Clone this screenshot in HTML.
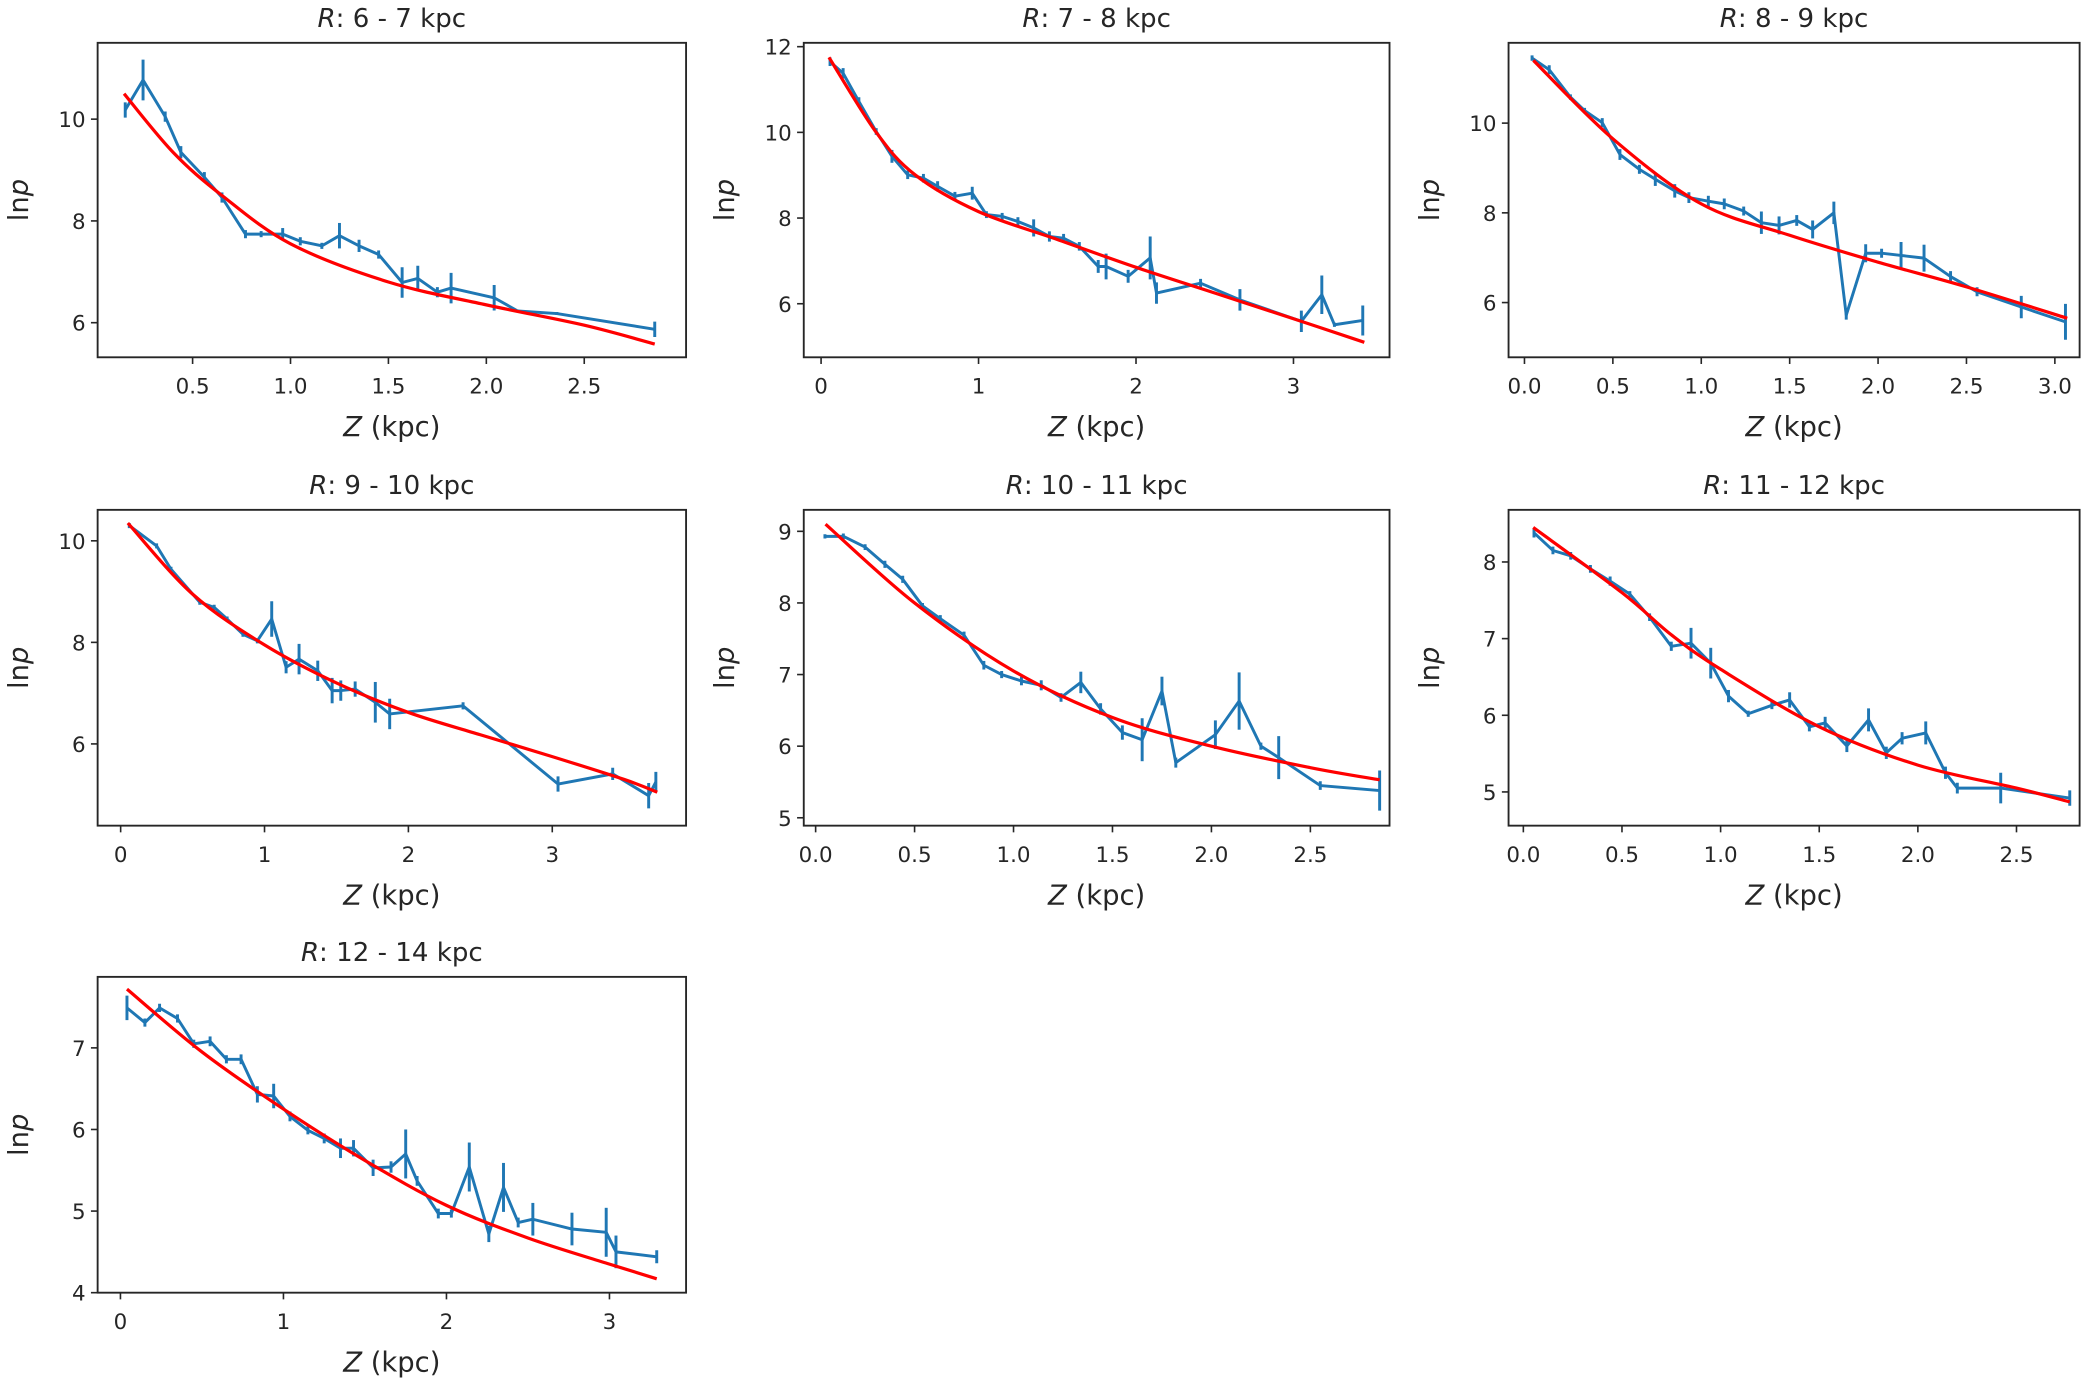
<!DOCTYPE html>
<html><head><meta charset="utf-8"><style>
html,body{margin:0;padding:0;background:#fff;}
svg{display:block;}
text{font-family:"DejaVu Sans","Liberation Sans",sans-serif;fill:#262626;}
</style></head><body>
<svg id="fig" width="2097" height="1381" viewBox="0 0 1568 1032" preserveAspectRatio="none" xmlns="http://www.w3.org/2000/svg"></svg>
<script>
// ---- data ----
const p1Z=[0.156,0.247,0.36,0.44,0.56,0.65,0.77,0.85,0.96,1.05,1.16,1.25,1.35,1.45,1.57,1.65,1.75,1.82,2.04,2.16,2.36,2.86];
const p1LnP=[10.18,10.77,10.05,9.35,8.86,8.46,7.74,7.74,7.74,7.6,7.51,7.71,7.51,7.34,6.79,6.87,6.6,6.68,6.49,6.23,6.18,5.87];
const p1Err=[0.15,0.4,0.1,0.12,0.1,0.1,0.08,0.06,0.12,0.08,0.06,0.25,0.12,0.08,0.3,0.25,0.1,0.3,0.25,0.03,0.03,0.15];
const p1FitZ=[0.15,0.4,0.65,1.0,1.5,2.0,2.5,2.86];
const p1FitLnP=[10.5,9.35,8.5,7.55,6.8,6.35,5.95,5.58];

const p2Z=[0.057,0.14,0.24,0.35,0.45,0.55,0.65,0.74,0.85,0.96,1.05,1.15,1.25,1.35,1.45,1.54,1.64,1.76,1.81,1.95,2.09,2.13,2.41,2.66,3.05,3.18,3.26,3.44];
const p2LnP=[11.65,11.38,10.72,10.02,9.44,9.01,8.93,8.74,8.51,8.58,8.08,8.04,7.92,7.77,7.57,7.53,7.34,6.87,6.87,6.64,7.07,6.25,6.48,6.09,5.59,6.21,5.51,5.61];
const p2Err=[0.1,0.12,0.1,0.08,0.15,0.1,0.1,0.12,0.1,0.15,0.08,0.08,0.1,0.2,0.12,0.1,0.1,0.15,0.3,0.15,0.5,0.25,0.1,0.25,0.25,0.45,0.05,0.35];
const p2FitZ=[0.05,0.35,0.6,1.0,1.5,2.0,2.5,3.0,3.45];
const p2FitLnP=[11.75,10.0,9.0,8.15,7.5,6.85,6.25,5.65,5.1];

const p3Z=[0.043,0.14,0.26,0.34,0.44,0.54,0.65,0.74,0.85,0.93,1.04,1.13,1.24,1.34,1.44,1.54,1.63,1.75,1.82,1.93,2.02,2.13,2.26,2.41,2.56,2.81,3.06];
const p3LnP=[11.45,11.19,10.58,10.28,10.01,9.3,8.97,8.75,8.49,8.34,8.26,8.2,8.04,7.78,7.72,7.83,7.63,8.0,5.72,7.1,7.1,7.05,6.99,6.58,6.24,5.9,5.57];
const p3Err=[0.06,0.1,0.06,0.06,0.1,0.12,0.1,0.15,0.15,0.12,0.12,0.12,0.1,0.25,0.2,0.12,0.2,0.25,0.1,0.2,0.1,0.3,0.3,0.12,0.1,0.25,0.4];
const p3FitZ=[0.05,0.5,1.0,1.5,2.0,2.5,3.07];
const p3FitLnP=[11.4,9.65,8.2,7.5,6.9,6.35,5.65];

const p4Z=[0.06,0.25,0.35,0.55,0.65,0.74,0.85,0.95,1.05,1.15,1.24,1.37,1.47,1.53,1.63,1.77,1.87,2.38,3.04,3.42,3.67,3.72];
const p4LnP=[10.3,9.9,9.44,8.79,8.69,8.46,8.16,8.03,8.46,7.51,7.67,7.44,7.05,7.05,7.08,6.82,6.59,6.75,5.21,5.41,4.98,5.25];
const p4Err=[0.05,0.05,0.05,0.05,0.05,0.05,0.05,0.05,0.35,0.12,0.3,0.2,0.25,0.2,0.15,0.4,0.3,0.07,0.15,0.12,0.25,0.2];
const p4FitZ=[0.05,0.5,1.0,1.5,2.0,2.5,3.0,3.5,3.73];
const p4FitLnP=[10.35,8.95,7.95,7.2,6.62,6.18,5.75,5.3,5.05];

const p5Z=[0.047,0.14,0.25,0.35,0.44,0.54,0.63,0.75,0.85,0.94,1.04,1.14,1.24,1.34,1.44,1.55,1.65,1.75,1.82,2.02,2.14,2.25,2.34,2.55,2.85];
const p5LnP=[8.93,8.93,8.78,8.54,8.33,7.96,7.78,7.55,7.13,7.0,6.91,6.85,6.68,6.89,6.52,6.19,6.09,6.77,5.77,6.16,6.63,6.0,5.84,5.45,5.38];
const p5Err=[0.03,0.04,0.04,0.05,0.05,0.04,0.05,0.05,0.06,0.05,0.06,0.07,0.06,0.15,0.08,0.1,0.3,0.2,0.07,0.2,0.4,0.05,0.3,0.06,0.28];
const p5FitZ=[0.05,0.5,1.0,1.5,2.0,2.5,2.85];
const p5FitLnP=[9.1,8.0,7.05,6.4,6.0,5.7,5.53];

const p6Z=[0.054,0.15,0.24,0.34,0.44,0.54,0.64,0.75,0.85,0.95,1.04,1.14,1.26,1.35,1.45,1.53,1.64,1.75,1.84,1.92,2.04,2.14,2.2,2.42,2.77];
const p6LnP=[8.38,8.15,8.08,7.91,7.75,7.58,7.28,6.9,6.94,6.68,6.25,6.02,6.13,6.2,5.85,5.9,5.6,5.94,5.51,5.7,5.77,5.25,5.05,5.05,4.92];
const p6Err=[0.06,0.05,0.05,0.05,0.06,0.04,0.05,0.06,0.2,0.2,0.08,0.04,0.05,0.1,0.06,0.08,0.08,0.15,0.08,0.08,0.15,0.08,0.07,0.2,0.1];
const p6FitZ=[0.05,0.5,0.75,1.0,1.5,2.0,2.5,2.77];
const p6FitLnP=[8.45,7.6,7.05,6.6,5.85,5.35,5.05,4.87];

const p7Z=[0.04,0.15,0.24,0.35,0.45,0.55,0.65,0.74,0.84,0.94,1.04,1.15,1.25,1.35,1.43,1.55,1.66,1.75,1.82,1.95,2.03,2.14,2.26,2.35,2.44,2.53,2.77,2.98,3.04,3.29];
const p7LnP=[7.49,7.31,7.49,7.36,7.05,7.08,6.86,6.86,6.43,6.41,6.16,5.99,5.89,5.77,5.77,5.53,5.54,5.7,5.37,4.97,4.97,5.54,4.72,5.29,4.86,4.9,4.78,4.74,4.5,4.44];
const p7Err=[0.15,0.05,0.05,0.05,0.05,0.06,0.05,0.06,0.1,0.15,0.06,0.05,0.06,0.12,0.1,0.1,0.07,0.3,0.06,0.06,0.05,0.3,0.1,0.3,0.06,0.2,0.2,0.3,0.2,0.08];
const p7FitZ=[0.04,0.5,1.0,1.5,2.0,2.5,3.0,3.29];
const p7FitLnP=[7.72,6.95,6.25,5.62,5.07,4.67,4.35,4.17];

const titles=["6 - 7","7 - 8","8 - 9","9 - 10","10 - 11","11 - 12","12 - 14"];
const xTicks1=[0.5,1.0,1.5,2.0,2.5], xTickLabels1=["0.5","1.0","1.5","2.0","2.5"];
const xTicks2=[0,1,2,3], xTickLabels2=["0","1","2","3"];
const xTicks3=[0,0.5,1,1.5,2,2.5,3], xTickLabels3=["0.0","0.5","1.0","1.5","2.0","2.5","3.0"];
const xTicks4=[0,1,2,3], xTickLabels4=["0","1","2","3"];
const xTicks5=[0,0.5,1,1.5,2,2.5], xTickLabels5=["0.0","0.5","1.0","1.5","2.0","2.5"];
const xTicks6=[0,0.5,1,1.5,2,2.5], xTickLabels6=["0.0","0.5","1.0","1.5","2.0","2.5"];
const xTicks7=[0,1,2,3], xTickLabels7=["0","1","2","3"];
const yTicks1=[6,8,10], yTicks2=[6,8,10,12], yTicks3=[6,8,10], yTicks4=[6,8,10];
const yTicks5=[5,6,7,8,9], yTicks6=[5,6,7,8], yTicks7=[4,5,6,7];

// ---- layout (not data) ----
const panels=[
 {z:p1Z,v:p1LnP,e:p1Err,fz:p1FitZ,fv:p1FitLnP,xt:xTicks1,xl:xTickLabels1,yt:yTicks1,box:[73,32,513,267],xr:[0.015,3.02],yr:[5.32,11.5]},
 {z:p2Z,v:p2LnP,e:p2Err,fz:p2FitZ,fv:p2FitLnP,xt:xTicks2,xl:xTickLabels2,yt:yTicks2,box:[601,32,1039,267],xr:[-0.11,3.61],yr:[4.75,12.09]},
 {z:p3Z,v:p3LnP,e:p3Err,fz:p3FitZ,fv:p3FitLnP,xt:xTicks3,xl:xTickLabels3,yt:yTicks3,box:[1128,32,1555,267],xr:[-0.09,3.14],yr:[4.78,11.79]},
 {z:p4Z,v:p4LnP,e:p4Err,fz:p4FitZ,fv:p4FitLnP,xt:xTicks4,xl:xTickLabels4,yt:yTicks4,box:[73,381,513,617],xr:[-0.16,3.93],yr:[4.39,10.61]},
 {z:p5Z,v:p5LnP,e:p5Err,fz:p5FitZ,fv:p5FitLnP,xt:xTicks5,xl:xTickLabels5,yt:yTicks5,box:[601,381,1039,617],xr:[-0.06,2.90],yr:[4.89,9.30]},
 {z:p6Z,v:p6LnP,e:p6Err,fz:p6FitZ,fv:p6FitLnP,xt:xTicks6,xl:xTickLabels6,yt:yTicks6,box:[1128,381,1555,617],xr:[-0.075,2.82],yr:[4.56,8.68]},
 {z:p7Z,v:p7LnP,e:p7Err,fz:p7FitZ,fv:p7FitLnP,xt:xTicks7,xl:xTickLabels7,yt:yTicks7,box:[73,730,513,966],xr:[-0.14,3.47],yr:[4.0,7.87]}
];
const NS="http://www.w3.org/2000/svg";
const svg=document.getElementById('fig');
function mk(tag,attrs,parent){const el=document.createElementNS(NS,tag);for(const k in attrs)el.setAttribute(k,attrs[k]);(parent||svg).appendChild(el);return el;}
function smooth(pts){
  let d="M"+pts[0][0].toFixed(2)+","+pts[0][1].toFixed(2);
  for(let i=0;i<pts.length-1;i++){
    const p0=pts[i-1]||pts[i],p1=pts[i],p2=pts[i+1],p3=pts[i+2]||p2;
    const c1=[p1[0]+(p2[0]-p0[0])/6,p1[1]+(p2[1]-p0[1])/6];
    const c2=[p2[0]-(p3[0]-p1[0])/6,p2[1]-(p3[1]-p1[1])/6];
    d+=" C"+c1[0].toFixed(2)+","+c1[1].toFixed(2)+" "+c2[0].toFixed(2)+","+c2[1].toFixed(2)+" "+p2[0].toFixed(2)+","+p2[1].toFixed(2);
  }
  return d;
}
panels.forEach((p,i)=>{
  const [x0,y0,x1,y1]=p.box;
  const X=v=>x0+(v-p.xr[0])/(p.xr[1]-p.xr[0])*(x1-x0);
  const Y=v=>y1-(v-p.yr[0])/(p.yr[1]-p.yr[0])*(y1-y0);
  const g=mk('g',{});
  
  
  const cid='clip'+i;
  const cp=mk('clipPath',{id:cid},g);mk('rect',{x:x0,y:y0,width:x1-x0,height:y1-y0},cp);
  const t=mk('text',{x:(x0+x1)/2,y:y0-12,'text-anchor':'middle','font-size':19.5},g);
  
  
  t.innerHTML='<tspan font-style="italic">R</tspan>: '+titles[i]+' kpc';
  p.xt.forEach((tv,j)=>{
    const xx=X(tv);
    mk('line',{x1:xx,x2:xx,y1:y1,y2:y1+5,stroke:'#262626','stroke-width':1.2},g);
    const tl=mk('text',{x:xx,y:y1+27,'text-anchor':'middle','font-size':16},g);
    
    
    tl.textContent=p.xl[j];
  });
  p.yt.forEach(tv=>{
    const yy=Y(tv);
    mk('line',{x1:x0-5,x2:x0,y1:yy,y2:yy,stroke:'#262626','stroke-width':1.2},g);
    const tl=mk('text',{x:x0-9,y:yy+6,'text-anchor':'end','font-size':16},g);
    
    
    tl.textContent=String(tv);
  });
  const xl=mk('text',{x:(x0+x1)/2,y:y1+59,'text-anchor':'middle','font-size':20.5},g);
  
  
  xl.innerHTML='<tspan font-style="italic">Z</tspan> (kpc)';
  const cy=(y0+y1)/2, lx=x0-52;
  const yl=mk('text',{x:lx,y:cy,'text-anchor':'middle','font-size':20.5,transform:'rotate(-90 '+lx+' '+cy+')'},g);
  
  
  yl.innerHTML='ln<tspan font-style="italic">p</tspan>';
  const plot=mk('g',{'clip-path':'url(#'+cid+')'},g);
  p.z.forEach((zv,j)=>{
    const eb=mk('line',{x1:X(zv),x2:X(zv),y1:Y(p.v[j]-p.e[j]),y2:Y(p.v[j]+p.e[j]),stroke:'#1f77b4','stroke-width':2.2},plot);
    
    
  });
  const pts=p.z.map((zv,j)=>X(zv).toFixed(2)+','+Y(p.v[j]).toFixed(2)).join(' ');
  const dl=mk('polyline',{points:pts,fill:'none',stroke:'#1f77b4','stroke-width':2.2,'stroke-linejoin':'round'},plot);
  
  
  const fit=mk('path',{d:smooth(p.fz.map((zv,j)=>[X(zv),Y(p.fv[j])])),fill:'none',stroke:'#ff0000','stroke-width':2.4},plot);
  
  
  const fr=mk('rect',{x:x0,y:y0,width:x1-x0,height:y1-y0,fill:'none',stroke:'#262626','stroke-width':1.4},g);
  
  
});
</script>
</body></html>
